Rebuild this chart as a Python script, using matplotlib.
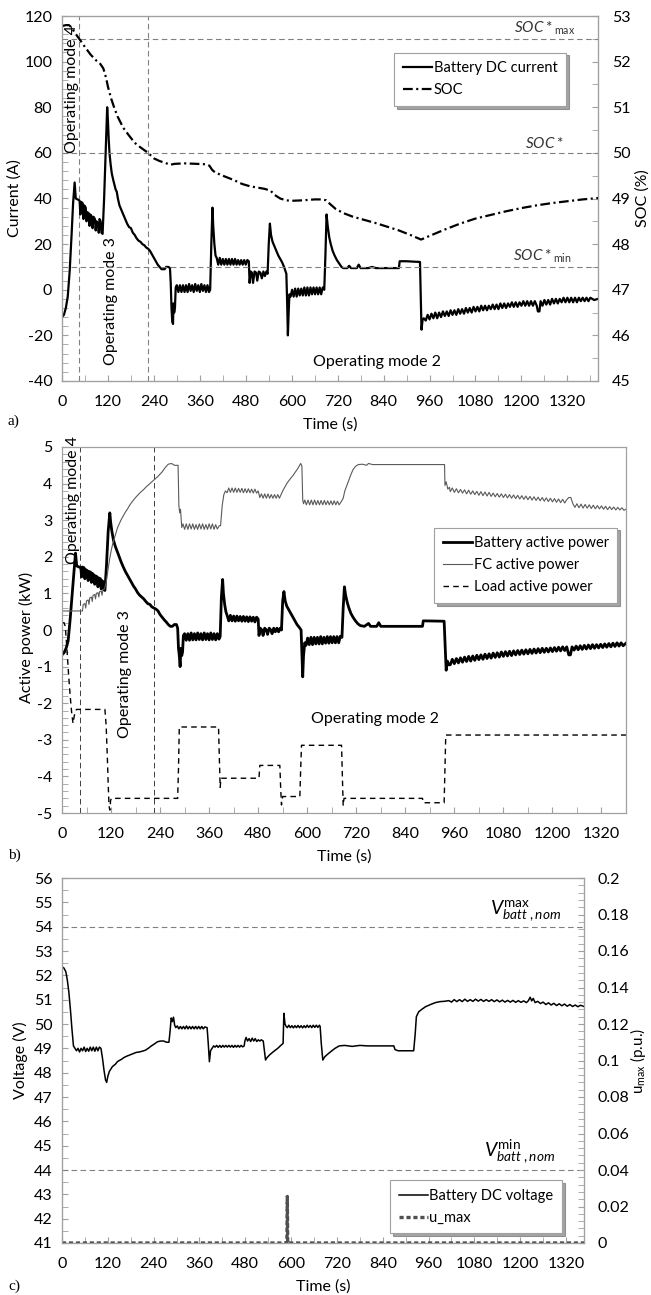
import matplotlib
matplotlib.use('Agg')
import matplotlib.pyplot as plt
from matplotlib.ticker import MultipleLocator, FuncFormatter

# ---------------------------------------------------------------------------
# Datos (tiempo en s, valor)
# ---------------------------------------------------------------------------
# a) corriente DC de la bateria (A)
CORRIENTE = [
    (0, -12), (5, -11), (10, -8), (15, -3), (20, 8), (25, 24), (29, 38), (33, 47), (36, 40),
    (42, 39.5), (46, 39), (48, 33), (50, 38.5), (54, 38), (56, 31), (58, 37), (62, 36), (64, 30),
    (66, 34), (70, 33.5), (72, 28), (74, 33), (78, 32), (80, 27), (82, 32), (86, 31), (88, 26),
    (90, 30), (94, 29), (96, 25), (98, 31), (101, 30), (103, 25), (106, 24.5), (110, 40),
    (114, 60), (118, 80), (120, 74), (122, 66), (124, 60), (127, 55), (130, 51), (134, 48),
    (137, 46), (140, 44), (143, 43), (146, 40), (150, 37), (155, 35), (160, 33), (165, 31),
    (170, 29), (175, 27.5), (180, 27), (185, 25), (190, 24), (195, 22.5), (200, 21.5), (205, 21),
    (210, 20), (215, 19.5), (220, 18.5), (225, 18), (230, 17), (235, 15.5), (240, 14), (245, 12.5),
    (250, 11), (255, 10), (260, 9), (268, 9), (272, 10), (278, 10), (282, 9.5), (284, 3),
    (286, -8), (288, -14), (290, -15), (291, -6), (293, -10), (295, -8), (297, 1),
    (300, 2), (304, -1), (308, 2), (312, -1), (316, 2), (320, -1), (324, 2), (328, -1), (332, 2.5),
    (336, -0.5), (340, 2), (344, -1), (348, 2.5), (352, -0.5), (356, 2), (360, -1), (364, 2.5),
    (368, -0.5), (372, 2), (376, -1), (380, 2), (384, -1), (387, 0),
    (390, 20), (393, 36), (395, 28), (398, 20), (401, 15), (404, 14),
    (408, 11), (412, 14), (416, 11), (420, 13.5), (424, 11), (428, 13.5), (432, 11), (436, 13.5),
    (440, 11), (444, 13.5), (448, 11), (452, 13.5), (456, 11), (460, 13), (464, 11), (468, 13),
    (472, 11), (476, 13), (480, 11), (484, 13), (488, 12.5),
    (490, 3), (493, 8), (496, 7.5), (499, 3), (503, 8), (507, 7.5), (510, 4), (514, 8), (518, 7.5),
    (522, 5), (526, 8), (530, 6), (534, 8), (537, 7),
    (540, 20), (543, 29), (546, 24), (550, 21), (555, 19), (560, 17), (565, 15), (570, 13.5),
    (575, 12), (580, 10), (584, 8), (586, 7), (588, -5), (590, -20), (592, -10), (594, -2),
    (597, -3), (601, 0), (605, -3), (609, 0.5), (613, -3), (617, 0.5), (621, -2.5), (625, 0.5),
    (629, -2.5), (633, 1), (637, -2.5), (641, 1), (645, -2.5), (649, 1), (653, -2), (657, 1),
    (661, -2), (665, 1), (669, -2), (673, 1), (677, -2), (681, 1), (685, 0),
    (688, 15), (691, 33), (694, 28), (698, 23), (702, 20), (707, 17), (712, 15), (718, 13),
    (724, 11.5), (730, 10), (735, 9.5), (745, 9.5), (750, 10.5), (755, 9.5), (770, 9.5),
    (775, 11), (780, 9.5), (800, 9.5), (810, 10), (820, 9.5), (850, 9.5), (880, 9.5),
    (882, 12.5), (900, 12.5), (920, 12.3), (935, 12.2), (937, -2), (939, -17.5), (942, -13),
    (945, -12.5),
    (950, -13.5), (955, -11), (960, -13), (965, -10.5), (970, -12.5), (975, -10), (980, -12.5),
    (985, -10), (990, -12), (995, -9.5), (1000, -11.5), (1005, -9.5), (1010, -11.5), (1015, -9),
    (1020, -11), (1025, -9), (1030, -11), (1035, -8.5), (1040, -10.5), (1045, -8.5), (1050, -10.5),
    (1055, -8), (1060, -10), (1065, -8), (1070, -10), (1075, -7.5), (1080, -9.5), (1085, -7.5),
    (1090, -9.5), (1095, -7), (1100, -9), (1105, -7), (1110, -9), (1115, -7), (1120, -8.5),
    (1125, -6.5), (1130, -8.5), (1135, -6.5), (1140, -8.5), (1145, -6), (1150, -8), (1155, -6),
    (1160, -8), (1165, -6), (1170, -7.5), (1175, -5.5), (1180, -7.5), (1185, -5.5), (1190, -7.5),
    (1195, -5.5), (1200, -7), (1205, -5), (1210, -7), (1215, -5), (1220, -7), (1225, -5),
    (1230, -7), (1235, -5), (1240, -7), (1243, -9.5), (1247, -9.5), (1250, -5), (1255, -7),
    (1260, -4.5), (1265, -6.5), (1270, -4.5), (1275, -6.5), (1280, -4), (1285, -6), (1290, -4),
    (1295, -6), (1300, -4), (1305, -5.5), (1310, -3.5), (1315, -5.5), (1320, -3.5), (1325, -5.5),
    (1330, -3.5), (1335, -5.5), (1340, -3.5), (1345, -5.5), (1350, -3.5), (1355, -5), (1360, -3.5),
    (1365, -5), (1370, -3.5), (1375, -5), (1380, -3.5), (1390, -4.5), (1400, -4),
]

# a) estado de carga (%)
SOC = [
    (0, 52.78), (10, 52.8), (18, 52.8), (25, 52.75), (32, 52.65), (45, 52.5), (60, 52.32),
    (75, 52.15), (90, 52.02), (100, 51.95), (108, 51.85), (115, 51.65), (120, 51.45), (128, 51.2),
    (136, 51.0), (145, 50.8), (160, 50.55), (175, 50.38), (190, 50.22), (205, 50.12), (225, 50.0),
    (240, 49.88), (255, 49.82), (270, 49.78), (282, 49.74), (295, 49.76), (320, 49.77),
    (350, 49.76), (375, 49.75), (385, 49.72), (392, 49.63), (400, 49.57), (420, 49.5),
    (450, 49.4), (470, 49.32), (490, 49.27), (510, 49.24), (530, 49.21), (545, 49.17),
    (555, 49.08), (570, 49.0), (585, 48.96), (600, 48.95), (630, 48.96), (660, 48.98),
    (680, 48.98), (690, 48.96), (700, 48.88), (715, 48.77), (735, 48.68), (760, 48.6),
    (790, 48.53), (820, 48.46), (850, 48.38), (880, 48.3), (910, 48.2), (938, 48.1),
    (960, 48.18), (1000, 48.32), (1040, 48.45), (1080, 48.56), (1120, 48.64), (1160, 48.72),
    (1200, 48.79), (1240, 48.85), (1280, 48.9), (1320, 48.94), (1360, 48.98), (1400, 49.01),
]

# b) potencia activa de la bateria (kW)
P_BATERIA = [
    (0, -0.68), (5, -0.62), (10, -0.5), (15, -0.3), (20, 0.3), (25, 1.0), (30, 1.7), (33, 2.1),
    (36, 1.75), (42, 1.72), (46, 1.7), (48, 1.45), (50, 1.72), (54, 1.7), (56, 1.4), (58, 1.65),
    (62, 1.62), (64, 1.35), (66, 1.6), (70, 1.58), (72, 1.3), (74, 1.55), (78, 1.5), (80, 1.25),
    (82, 1.48), (86, 1.45), (88, 1.18), (90, 1.42), (94, 1.4), (96, 1.12), (98, 1.35), (101, 1.3),
    (103, 1.1), (105, 1.08), (109, 1.8), (113, 2.7), (117, 3.2), (119, 2.95), (122, 2.7),
    (126, 2.45), (130, 2.3), (135, 2.15), (140, 2.0), (145, 1.85), (150, 1.72), (155, 1.6),
    (160, 1.5), (165, 1.4), (170, 1.3), (175, 1.2), (180, 1.12), (185, 1.02), (190, 0.95),
    (195, 0.9), (200, 0.85), (205, 0.78), (210, 0.72), (215, 0.7), (220, 0.63), (225, 0.6),
    (230, 0.57), (235, 0.52), (240, 0.42), (245, 0.35), (250, 0.28), (255, 0.22), (260, 0.15),
    (265, 0.1), (270, 0.1), (275, 0.15), (280, 0.15), (283, 0.05), (285, -0.5), (287, -0.7),
    (289, -1.0), (291, -0.5), (293, -0.7), (295, -0.6), (297, -0.15),
    (300, -0.1), (304, -0.28), (308, -0.1), (312, -0.28), (316, -0.08), (320, -0.27), (324, -0.1),
    (328, -0.27), (332, -0.08), (336, -0.26), (340, -0.1), (344, -0.27), (348, -0.08),
    (352, -0.26), (356, -0.1), (360, -0.27), (364, -0.08), (368, -0.26), (372, -0.1),
    (376, -0.27), (380, -0.1), (384, -0.25), (387, -0.18),
    (390, 0.9), (393, 1.38), (395, 1.0), (398, 0.7), (401, 0.5), (404, 0.4),
    (408, 0.25), (412, 0.4), (416, 0.25), (420, 0.38), (424, 0.24), (428, 0.38), (432, 0.25),
    (436, 0.37), (440, 0.24), (444, 0.37), (448, 0.24), (452, 0.36), (456, 0.23), (460, 0.36),
    (464, 0.24), (468, 0.35), (472, 0.22), (476, 0.35), (480, 0.3),
    (482, -0.15), (485, 0.05), (489, 0.0), (492, -0.15), (496, 0.05), (500, 0.0), (503, -0.12),
    (507, 0.05), (511, 0.0), (514, -0.1), (518, 0.05), (522, -0.05), (526, 0.05), (530, -0.05),
    (534, 0.05), (537, 0.0),
    (540, 0.8), (543, 1.05), (546, 0.8), (550, 0.65), (555, 0.55), (560, 0.45), (565, 0.35),
    (570, 0.25), (575, 0.15), (580, 0.08), (585, 0.0), (587, -0.6), (589, -1.28), (591, -0.7),
    (594, -0.35),
    (597, -0.42), (601, -0.22), (605, -0.4), (609, -0.2), (613, -0.4), (617, -0.2), (621, -0.38),
    (625, -0.2), (629, -0.38), (633, -0.18), (637, -0.38), (641, -0.2), (645, -0.36), (649, -0.18),
    (653, -0.36), (657, -0.18), (661, -0.35), (665, -0.18), (669, -0.35), (673, -0.18),
    (677, -0.35), (681, -0.17), (685, -0.2),
    (688, 0.6), (691, 1.18), (694, 0.95), (698, 0.75), (702, 0.6), (707, 0.45), (712, 0.35),
    (718, 0.25), (724, 0.17), (730, 0.12), (740, 0.1), (750, 0.18), (755, 0.1), (770, 0.1),
    (775, 0.2), (780, 0.1), (830, 0.1), (882, 0.1), (884, 0.25), (935, 0.24), (937, -0.3),
    (940, -1.1), (943, -0.85), (946, -0.95),
    (950, -0.95), (955, -0.8), (960, -0.92), (965, -0.78), (970, -0.9), (975, -0.76), (980, -0.88),
    (985, -0.74), (990, -0.86), (995, -0.72), (1000, -0.85), (1005, -0.71), (1010, -0.83),
    (1015, -0.69), (1020, -0.81), (1025, -0.68), (1030, -0.8), (1035, -0.66), (1040, -0.78),
    (1045, -0.65), (1050, -0.77), (1055, -0.63), (1060, -0.75), (1065, -0.62), (1070, -0.74),
    (1075, -0.6), (1080, -0.72), (1085, -0.59), (1090, -0.71), (1095, -0.58), (1100, -0.7),
    (1105, -0.57), (1110, -0.68), (1115, -0.56), (1120, -0.67), (1125, -0.55), (1130, -0.66),
    (1135, -0.54), (1140, -0.65), (1145, -0.53), (1150, -0.64), (1155, -0.52), (1160, -0.63),
    (1165, -0.51), (1170, -0.62), (1175, -0.5), (1180, -0.61), (1185, -0.5), (1190, -0.6),
    (1195, -0.49), (1200, -0.59), (1205, -0.48), (1210, -0.58), (1215, -0.47), (1220, -0.57),
    (1225, -0.46), (1230, -0.56), (1235, -0.46), (1240, -0.68), (1244, -0.68), (1248, -0.46),
    (1253, -0.55), (1258, -0.44), (1263, -0.54), (1268, -0.43), (1273, -0.53), (1278, -0.42),
    (1283, -0.52), (1288, -0.41), (1293, -0.51), (1298, -0.4), (1303, -0.5), (1308, -0.4),
    (1313, -0.49), (1318, -0.39), (1323, -0.48), (1328, -0.38), (1333, -0.47), (1338, -0.37),
    (1343, -0.46), (1348, -0.36), (1353, -0.45), (1358, -0.35), (1363, -0.44), (1368, -0.35),
    (1373, -0.43), (1380, -0.36),
]

# b) potencia activa de la pila de combustible (kW)
P_FC = [
    (0, 0.52), (47, 0.52), (50, 0.52), (52, 0.7), (56, 0.72), (58, 0.6), (60, 0.8), (64, 0.82),
    (66, 0.7), (68, 0.88), (72, 0.9), (74, 0.78), (76, 0.95), (80, 0.97), (82, 0.85), (84, 1.0),
    (88, 1.02), (90, 0.9), (92, 1.05), (96, 1.06), (98, 0.95), (100, 1.1), (104, 1.12),
    (108, 1.3), (112, 1.6), (116, 1.9), (120, 2.15), (124, 2.35), (128, 2.5), (132, 2.65),
    (136, 2.8), (140, 2.9), (145, 3.02), (150, 3.12), (155, 3.22), (160, 3.3), (165, 3.4),
    (170, 3.48), (175, 3.55), (180, 3.62), (185, 3.68), (190, 3.74), (195, 3.79), (200, 3.84),
    (205, 3.9), (210, 3.95), (215, 4.0), (220, 4.05), (225, 4.1), (230, 4.15), (235, 4.2),
    (240, 4.26), (245, 4.32), (250, 4.4), (255, 4.47), (260, 4.53), (268, 4.55), (275, 4.5),
    (284, 4.5), (286, 3.4), (288, 3.2), (290, 3.3), (293, 2.8),
    (296, 2.9), (300, 2.75), (304, 2.9), (308, 2.75), (312, 2.9), (316, 2.76), (320, 2.9),
    (324, 2.75), (328, 2.88), (332, 2.75), (336, 2.9), (340, 2.76), (344, 2.9), (348, 2.75),
    (352, 2.88), (356, 2.75), (360, 2.9), (364, 2.76), (368, 2.9), (372, 2.75), (376, 2.88),
    (380, 2.76), (385, 2.85),
    (388, 2.85), (392, 3.4), (396, 3.7), (400, 3.8),
    (404, 3.75), (408, 3.88), (412, 3.76), (416, 3.88), (420, 3.76), (424, 3.88), (428, 3.76),
    (432, 3.87), (436, 3.76), (440, 3.87), (444, 3.75), (448, 3.86), (452, 3.75), (456, 3.86),
    (460, 3.75), (464, 3.85), (468, 3.74), (472, 3.85), (476, 3.74), (480, 3.8),
    (484, 3.62), (488, 3.72), (492, 3.6), (496, 3.72), (500, 3.6), (504, 3.72), (508, 3.6),
    (512, 3.7), (516, 3.6), (520, 3.7), (524, 3.6), (528, 3.7), (532, 3.6), (536, 3.7),
    (540, 3.8), (545, 3.9), (550, 4.0), (555, 4.08), (560, 4.15), (565, 4.22), (570, 4.3),
    (575, 4.38), (580, 4.47), (584, 4.55), (587, 4.48), (589, 3.55), (591, 3.45),
    (594, 3.55), (598, 3.42), (602, 3.55), (606, 3.42), (610, 3.55), (614, 3.42), (618, 3.55),
    (622, 3.42), (626, 3.54), (630, 3.42), (634, 3.54), (638, 3.42), (642, 3.54), (646, 3.42),
    (650, 3.53), (654, 3.42), (658, 3.53), (662, 3.42), (666, 3.53), (670, 3.42), (674, 3.52),
    (678, 3.42), (683, 3.5),
    (688, 3.6), (692, 3.8), (697, 3.95), (702, 4.1), (707, 4.25), (712, 4.38), (718, 4.47),
    (725, 4.52), (735, 4.53), (745, 4.5), (750, 4.55), (760, 4.52), (850, 4.52), (936, 4.52),
    (937, 3.95), (940, 4.05), (944, 3.85), (948, 3.9),
    (950, 3.78), (955, 3.88), (960, 3.76), (965, 3.86), (970, 3.75), (975, 3.84), (980, 3.74),
    (985, 3.83), (990, 3.72), (995, 3.82), (1000, 3.71), (1005, 3.8), (1010, 3.7), (1015, 3.79),
    (1020, 3.68), (1025, 3.78), (1030, 3.67), (1035, 3.77), (1040, 3.66), (1045, 3.76),
    (1050, 3.65), (1055, 3.74), (1060, 3.64), (1065, 3.73), (1070, 3.63), (1075, 3.72),
    (1080, 3.62), (1085, 3.71), (1090, 3.61), (1095, 3.7), (1100, 3.6), (1105, 3.69),
    (1110, 3.59), (1115, 3.68), (1120, 3.58), (1125, 3.67), (1130, 3.57), (1135, 3.66),
    (1140, 3.56), (1145, 3.65), (1150, 3.55), (1155, 3.64), (1160, 3.54), (1165, 3.63),
    (1170, 3.53), (1175, 3.62), (1180, 3.52), (1185, 3.61), (1190, 3.51), (1195, 3.6),
    (1200, 3.5), (1205, 3.59), (1210, 3.49), (1215, 3.58), (1220, 3.48), (1225, 3.57),
    (1230, 3.47), (1235, 3.56), (1240, 3.62), (1245, 3.62), (1250, 3.45), (1255, 3.35),
    (1260, 3.45), (1265, 3.34), (1270, 3.44), (1275, 3.33), (1280, 3.43), (1285, 3.33),
    (1290, 3.42), (1295, 3.32), (1300, 3.41), (1305, 3.31), (1310, 3.4), (1315, 3.31),
    (1320, 3.39), (1325, 3.3), (1330, 3.38), (1335, 3.29), (1340, 3.37), (1345, 3.29),
    (1350, 3.36), (1355, 3.28), (1360, 3.35), (1365, 3.28), (1370, 3.34), (1375, 3.27),
    (1380, 3.3),
]

# b) potencia activa de la carga (kW)
P_CARGA = [
    (0, 0.2), (5, 0.2), (8, 0.1), (12, -0.5), (16, -1.2), (20, -1.8), (24, -2.3), (27, -2.55),
    (30, -2.35), (33, -2.2), (36, -2.17), (105, -2.17), (108, -2.6), (111, -3.5), (113, -4.2),
    (115, -4.8), (117, -4.92), (119, -4.65), (121, -4.6), (283, -4.6), (285, -3.8), (287, -2.65),
    (383, -2.65), (385, -3.5), (387, -4.3), (389, -4.05), (482, -4.05), (484, -3.7), (533, -3.7),
    (535, -4.3), (537, -4.78), (540, -4.55), (582, -4.55), (584, -3.8), (586, -3.15),
    (684, -3.15), (686, -4.0), (688, -4.8), (690, -4.6), (882, -4.6), (884, -4.72), (935, -4.72),
    (937, -3.8), (939, -2.87), (1380, -2.87),
]

# c) tension DC de la bateria (V)
TENSION = [
    (0, 52.35), (5, 52.3), (10, 52.15), (14, 51.8), (18, 51.3), (22, 50.6), (26, 49.8),
    (30, 49.1), (34, 49.0), (38, 48.9), (42, 49.0), (46, 48.85), (50, 49.0), (54, 48.9),
    (58, 49.05), (62, 48.87), (66, 49.0), (70, 48.88), (74, 49.05), (78, 48.9), (82, 49.05),
    (86, 48.88), (90, 49.05), (94, 48.9), (98, 49.05), (102, 49.0), (106, 48.6), (110, 48.1),
    (114, 47.7), (117, 47.6), (120, 47.85), (124, 48.05), (128, 48.15), (132, 48.25),
    (136, 48.3), (140, 48.35), (145, 48.45), (150, 48.5), (156, 48.55), (162, 48.62),
    (170, 48.68), (178, 48.73), (186, 48.78), (194, 48.83), (202, 48.85), (210, 48.88),
    (218, 48.92), (226, 49.0), (234, 49.1), (242, 49.18), (250, 49.27), (258, 49.3),
    (266, 49.3), (274, 49.25), (280, 49.25), (283, 49.7), (286, 50.25), (289, 50.1),
    (292, 50.28), (295, 49.95), (298, 49.85),
    (302, 49.92), (306, 49.8), (310, 49.9), (314, 49.8), (318, 49.9), (322, 49.8), (326, 49.92),
    (330, 49.8), (334, 49.9), (338, 49.8), (342, 49.9), (346, 49.8), (350, 49.9), (354, 49.8),
    (358, 49.9), (362, 49.8), (366, 49.9), (370, 49.8), (374, 49.88), (380, 49.85),
    (383, 49.2), (386, 48.45), (389, 48.9), (393, 49.0), (397, 49.1),
    (401, 49.05), (405, 49.12), (409, 49.04), (413, 49.12), (417, 49.04), (421, 49.12),
    (425, 49.05), (429, 49.12), (433, 49.05), (437, 49.12), (441, 49.05), (445, 49.12),
    (449, 49.04), (453, 49.12), (457, 49.05), (461, 49.12), (465, 49.05), (469, 49.12),
    (473, 49.06), (477, 49.1),
    (479, 49.3), (482, 49.45), (486, 49.3), (490, 49.4), (494, 49.28), (498, 49.42), (502, 49.3),
    (506, 49.4), (510, 49.28), (514, 49.35), (518, 49.3), (522, 49.35), (527, 49.3), (530, 48.9),
    (533, 48.52), (537, 48.62), (545, 48.75), (555, 48.88), (565, 49.0), (575, 49.15),
    (579, 49.2), (581, 50.44), (584, 50.0), (587, 49.9),
    (590, 49.85), (594, 49.95), (598, 49.85), (602, 49.93), (606, 49.84), (610, 49.93),
    (614, 49.85), (618, 49.94), (622, 49.85), (626, 49.93), (630, 49.84), (634, 49.93),
    (638, 49.85), (642, 49.95), (646, 49.86), (650, 49.94), (654, 49.85), (658, 49.95),
    (662, 49.86), (666, 49.95), (670, 49.86), (674, 49.95), (676, 49.9),
    (679, 49.2), (683, 48.52), (688, 48.65), (695, 48.75), (705, 48.88), (715, 49.0),
    (726, 49.1), (740, 49.12), (760, 49.08), (780, 49.12), (800, 49.1), (830, 49.1),
    (869, 49.1), (872, 48.95), (880, 48.9), (921, 48.9), (925, 49.6), (928, 50.3), (934, 50.5),
    (942, 50.6), (952, 50.71), (965, 50.8), (978, 50.88), (990, 50.92), (1000, 50.93),
    (1013, 50.96), (1020, 50.9), (1027, 51.0), (1034, 50.92), (1041, 51.0), (1048, 50.92),
    (1055, 51.02), (1062, 50.93), (1069, 51.0), (1076, 50.93), (1083, 51.02), (1090, 50.94),
    (1097, 51.01), (1104, 50.93), (1111, 51.0), (1118, 50.93), (1125, 51.0), (1132, 50.92),
    (1139, 50.99), (1146, 50.91), (1153, 50.98), (1160, 50.9), (1167, 50.97), (1174, 50.9),
    (1181, 50.97), (1188, 50.89), (1195, 50.96), (1202, 50.89), (1209, 50.95), (1216, 50.88),
    (1221, 50.95), (1226, 51.1), (1230, 50.95), (1234, 51.05), (1239, 50.88), (1246, 50.93),
    (1253, 50.84), (1260, 50.9), (1267, 50.8), (1274, 50.87), (1281, 50.78), (1288, 50.85),
    (1295, 50.76), (1302, 50.83), (1309, 50.75), (1316, 50.82), (1323, 50.73), (1330, 50.8),
    (1337, 50.72), (1344, 50.78), (1351, 50.71), (1358, 50.77), (1367, 50.72),
]

# c) u_max (p.u.)
U_MAX = [(0, 0), (589, 0), (590, 0.0255), (591, 0), (1367, 0)]

# Limites de referencia
SOC_REF = {'max': 52.5, 'nom': 50.0, 'min': 47.5}
V_REF = {'max': 54, 'min': 44}
T_MODOS = [45, 225]

# ---------------------------------------------------------------------------
# Figura
# ---------------------------------------------------------------------------
W, H = 651, 1295
GRIS = '#a0a0a0'
GRIS_REF = '#808080'
FUENTE = 'Lato'

plt.rcParams['font.family'] = [FUENTE, 'DejaVu Sans']
plt.rcParams['axes.unicode_minus'] = False
plt.rcParams['lines.scale_dashes'] = False
plt.rcParams['mathtext.fontset'] = 'custom'
plt.rcParams['mathtext.rm'] = FUENTE
plt.rcParams['mathtext.it'] = FUENTE + ':italic'

fig = plt.figure(figsize=(W / 100, H / 100), dpi=100)


def rect(izq, der, arriba, abajo):
    return [izq / W, 1 - abajo / H, (der - izq) / W, (abajo - arriba) / H]


def xy(pts):
    return [p[0] for p in pts], [p[1] for p in pts]


def estilo_ejes(ax, xmax):
    ax.set_xlim(0, xmax)
    ax.xaxis.set_major_locator(MultipleLocator(120))
    ax.xaxis.set_minor_locator(MultipleLocator(60))
    for s in ax.spines.values():
        s.set_color(GRIS)
        s.set_linewidth(0.9)
    ax.tick_params(which='both', direction='in', color=GRIS, labelsize=11.5, length=4)
    ax.tick_params(axis='x', which='both', pad=10)
    ax.tick_params(axis='y', which='both', pad=7)


def estilo_leyenda(leg):
    leg.get_frame().set_edgecolor(GRIS)
    leg.get_frame().set_linewidth(0.8)


fmt_g = FuncFormatter(lambda v, p: '%g' % v)
LEG_KW = dict(loc='upper left', fontsize=10.5, frameon=True, fancybox=False, shadow=True,
              handlelength=2.0, handletextpad=0.1, labelspacing=0.55, borderpad=0.6,
              borderaxespad=0)

# ------------------------------ a) ------------------------------
ax1 = fig.add_axes(rect(62, 598, 16, 381))
estilo_ejes(ax1, 1400)
ax1.set_ylim(-40, 120)
ax1.yaxis.set_major_locator(MultipleLocator(20))
ax1.yaxis.set_minor_locator(MultipleLocator(4))

ax1b = ax1.twinx()
ax1b.set_ylim(45, 53)
ax1b.yaxis.set_major_locator(MultipleLocator(1))
ax1b.yaxis.set_minor_locator(MultipleLocator(0.5))
for s in ax1b.spines.values():
    s.set_color(GRIS)
ax1b.tick_params(which='both', direction='in', color=GRIS, labelsize=11.5, length=4, pad=10)

for nivel in SOC_REF.values():
    ax1b.axhline(nivel, color=GRIS_REF, ls=(0, (4, 2.5)), lw=0.8)
for t in T_MODOS:
    ax1.axvline(t, color=GRIS_REF, ls=(0, (4, 2.5)), lw=0.8)

t, v = xy(CORRIENTE)
l1, = ax1.plot(t, v, color='black', lw=1.6, label='Battery DC current')
t, v = xy(SOC)
l2, = ax1b.plot(t, v, color='black', lw=1.6, dashes=(7, 2.5, 1.5, 2.5), label='SOC')

ax1.set_ylabel('Current (A)', fontsize=11.5)
ax1.yaxis.set_label_coords(-0.075, 0.5)
ax1b.set_ylabel('SOC (%)', fontsize=11.5)
ax1b.yaxis.set_label_coords(1.07, 0.5)
ax1.set_xlabel('Time (s)', fontsize=11.5)
ax1.xaxis.set_label_coords(0.5, -0.1)

ax1.text(27, 88, 'Operating mode 4', rotation=90, ha='center', va='center', fontsize=11.5)
ax1.text(128, -5, 'Operating mode 3', rotation=90, ha='center', va='center', fontsize=11.5)
ax1.text(822, -31.5, 'Operating mode 2', ha='center', va='center', fontsize=11.5)
ax1b.text(1340, 52.55, r'$\mathit{SOC*}_{\mathrm{max}}$', ha='right', va='bottom',
          fontsize=11, color='#333333')
ax1b.text(1310, 50.05, r'$\mathit{SOC*}$', ha='right', va='bottom', fontsize=11,
          color='#333333')
ax1b.text(1332, 47.55, r'$\mathit{SOC*}_{\mathrm{min}}$', ha='right', va='bottom',
          fontsize=11, color='#333333')

leg = ax1b.legend(handles=[l1, l2], bbox_to_anchor=(0.62, 0.9), **LEG_KW)
estilo_leyenda(leg)

# ------------------------------ b) ------------------------------
ax2 = fig.add_axes(rect(62, 626, 447, 813))
estilo_ejes(ax2, 1380)
ax2.set_ylim(-5, 5)
ax2.yaxis.set_major_locator(MultipleLocator(1))
ax2.yaxis.set_minor_locator(MultipleLocator(0.2))

for t in T_MODOS:
    ax2.axvline(t, color='#404040', ls=(0, (4, 2.5)), lw=0.7)

t, v = xy(P_BATERIA)
m1, = ax2.plot(t, v, color='black', lw=2.0, label='Battery active power')
t, v = xy(P_FC)
m2, = ax2.plot(t, v, color='#5a5a5a', lw=0.8, label='FC active power')
t, v = xy(P_CARGA)
m3, = ax2.plot(t, v, color='black', lw=1.0, dashes=(4, 3), label='Load active power')

ax2.set_ylabel('Active power (kW)', fontsize=11.5)
ax2.yaxis.set_label_coords(-0.05, 0.48)
ax2.set_xlabel('Time (s)', fontsize=11.5)
ax2.xaxis.set_label_coords(0.5, -0.1)

ax2.text(28, 3.55, 'Operating mode 4', rotation=90, ha='center', va='center', fontsize=11.5)
ax2.text(155, -1.2, 'Operating mode 3', rotation=90, ha='center', va='center', fontsize=11.5)
ax2.text(767, -2.42, 'Operating mode 2', ha='center', va='center', fontsize=11.5)

leg = ax2.legend(handles=[m1, m2, m3], bbox_to_anchor=(0.66, 0.78), **LEG_KW)
estilo_leyenda(leg)

# ------------------------------ c) ------------------------------
ax3 = fig.add_axes(rect(62, 584, 878, 1243))
estilo_ejes(ax3, 1367)
ax3.set_ylim(41, 56)
ax3.yaxis.set_major_locator(MultipleLocator(1))
ax3.yaxis.set_minor_locator(MultipleLocator(0.5))

ax3b = ax3.twinx()
ax3b.set_ylim(0, 0.2)
ax3b.yaxis.set_major_locator(MultipleLocator(0.02))
ax3b.yaxis.set_minor_locator(MultipleLocator(0.004))
ax3b.yaxis.set_major_formatter(fmt_g)
for s in ax3b.spines.values():
    s.set_color(GRIS)
ax3b.tick_params(which='both', direction='in', color=GRIS, labelsize=11.5, length=4, pad=10)

for nivel in V_REF.values():
    ax3.axhline(nivel, color=GRIS_REF, ls=(0, (4, 2.5)), lw=0.8)

t, v = xy(TENSION)
n1, = ax3.plot(t, v, color='black', lw=1.1, label='Battery DC voltage')
t, v = xy(U_MAX)
n2, = ax3b.plot(t, v, color='#505050', lw=2.4, dashes=(3, 2), label='u_max')

ax3.set_ylabel('Voltage (V)', fontsize=11.5)
ax3.yaxis.set_label_coords(-0.065, 0.5)
ax3b.set_ylabel(r'u$_{\mathrm{max}}$ (p.u.)', fontsize=11)
ax3b.yaxis.set_label_coords(1.085, 0.5)
ax3.set_xlabel('Time (s)', fontsize=11.5)
ax3.xaxis.set_label_coords(0.5, -0.1)

ax3.text(1307, 54.15, r'$V^{\mathrm{max}}_{batt\ ,nom}$', ha='right', va='bottom', fontsize=14)
ax3.text(1293, 44.15, r'$V^{\mathrm{min}}_{batt\ ,nom}$', ha='right', va='bottom', fontsize=14)

leg = ax3b.legend(handles=[n1, n2], bbox_to_anchor=(0.628, 0.173), **LEG_KW)
estilo_leyenda(leg)

# etiquetas de los paneles
for letra, y in [('a)', 421), ('b)', 855), ('c)', 1286)]:
    fig.text(8 / W, 1 - y / H, letra, ha='left', va='center', fontsize=11,
             family='Liberation Serif')

fig.savefig('out.png', dpi=100)
